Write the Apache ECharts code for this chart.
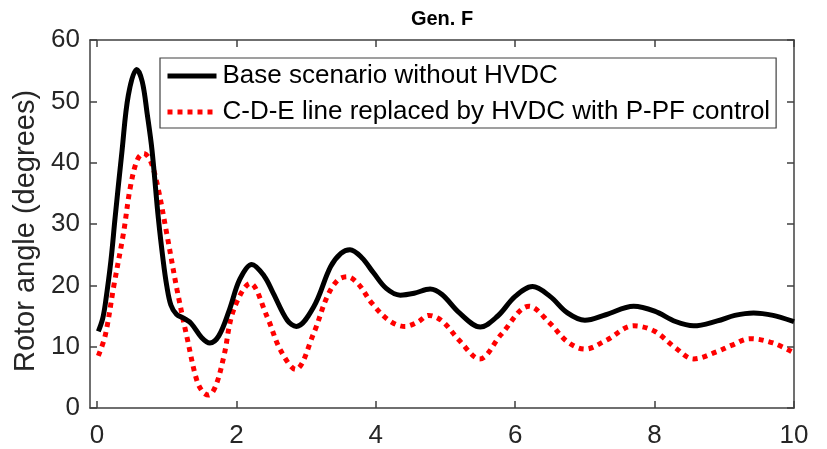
<!DOCTYPE html>
<html>
<head>
<meta charset="utf-8">
<script src="https://cdn.jsdelivr.net/npm/echarts@6/dist/echarts.min.js"></script>
<style>html,body{margin:0;padding:0;background:#fff}#c{width:827px;height:449px}</style>
</head>
<body>
<div id="c"></div>
<script>
var chartTitle = 'Gen. F';
var yAxisName = 'Rotor angle (degrees)';
var seriesNames = ['Base scenario without HVDC', 'C-D-E line replaced by HVDC with P-PF control'];
var xTicks = [0, 2, 4, 6, 8, 10];
var yTicks = [0, 10, 20, 30, 40, 50, 60];

var baseX = [0.02,0.08,0.12,0.2,0.26,0.36,0.45,0.57,0.65,0.72,0.79,0.88,0.95,1.0,1.06,1.14,1.25,1.35,1.5,1.62,1.75,1.9,2.05,2.22,2.4,2.53,2.73,2.86,3.11,3.35,3.5,3.63,3.8,3.97,4.15,4.35,4.55,4.78,4.95,5.2,5.5,5.75,6.0,6.25,6.5,6.75,7.0,7.3,7.7,8.0,8.3,8.56,8.9,9.15,9.42,9.7,10.0];
var baseY = [12.5,14.5,17,24,31,42,51,55.2,53.2,48,42,31,24,20,16.8,15.3,14.6,13.8,11.5,10.6,11.8,16,21,23.4,21.5,18.7,14.3,13.3,16.5,23,25.2,25.8,24.5,22,19.5,18.4,18.7,19.4,18.5,15.5,13.2,15,18.2,19.8,18.2,15.5,14.3,15.2,16.6,15.8,14.1,13.4,14.2,15.1,15.5,15.1,14.1];

var hvdcX = [0.02,0.12,0.24,0.38,0.48,0.58,0.67,0.76,0.86,1.0,1.15,1.29,1.43,1.52,1.6,1.7,1.82,1.96,2.2,2.44,2.63,2.85,3.11,3.3,3.45,3.59,3.75,3.95,4.2,4.42,4.6,4.76,4.95,5.2,5.49,5.8,6.2,6.5,6.75,7.0,7.3,7.7,8.0,8.3,8.56,8.9,9.1,9.37,9.7,10.0];
var hvdcY = [8.5,11.9,19.8,28.5,36.1,40.5,41.5,40.5,36.7,28.5,19.2,11.6,4.6,2.6,2.1,3.5,8.4,16,20.3,14.9,9.5,6.3,12.2,18.1,20.8,21.4,20.2,17,14.2,13.3,14,15.1,14.2,11,8.0,12,16.6,13.8,10.8,9.6,11,13.4,12.5,9.8,8.0,9.2,10.2,11.3,10.6,9.0];

function pairs(xs, ys) { return xs.map(function (x, i) { return [x, ys[i]]; }); }

var FONT = '"Liberation Sans", Arial, Helvetica, sans-serif';
var AX = '#404040';
var TXT = '#262626';
var tickStyle = {color: AX, width: 1.5};
var blackLine = {color: '#000', width: 5, type: 'solid'};
var redLine = {color: '#ff0000', width: 5, type: [5, 5], cap: 'butt'};

var chart = echarts.init(document.getElementById('c'), null, {renderer: 'canvas'});
chart.setOption({
  animation: false,
  backgroundColor: '#fff',
  title: {
    text: chartTitle, left: 437, top: 4, textAlign: 'center',
    textStyle: {fontFamily: FONT, fontSize: 20, fontWeight: 'bold', color: '#000'}
  },
  legend: {
    orient: 'vertical', left: 160, top: 58,
    itemWidth: 49, itemHeight: 14, itemGap: 10,
    padding: [5, 6, 3, 5],
    backgroundColor: '#fff', borderColor: AX, borderWidth: 1.2,
    itemStyle: {opacity: 0},
    textStyle: {fontFamily: FONT, fontSize: 26, color: '#000', padding: [0, 0, 0, 1]},
    data: [
      {name: seriesNames[0], lineStyle: blackLine, itemStyle: {opacity: 0}},
      {name: seriesNames[1], lineStyle: redLine, itemStyle: {opacity: 0}}
    ]
  },
  grid: {left: 90, right: 33, top: 40, bottom: 41, containLabel: false},
  xAxis: [{
    type: 'value', min: -0.1, max: 10,
    axisLine: {onZero: false, lineStyle: tickStyle},
    axisTick: {inside: true, length: 7, customValues: xTicks, lineStyle: tickStyle},
    axisLabel: {customValues: xTicks, fontFamily: FONT, fontSize: 26, color: TXT, margin: 15},
    splitLine: {show: false}
  }, {
    type: 'value', min: -0.1, max: 10, position: 'top',
    axisLine: {show: true, onZero: false, lineStyle: tickStyle},
    axisTick: {inside: true, length: 7, customValues: xTicks, lineStyle: tickStyle},
    axisLabel: {show: false},
    splitLine: {show: false}
  }],
  yAxis: [{
    type: 'value', min: 0, max: 60, interval: 10,
    name: yAxisName, nameLocation: 'middle', nameGap: 49,
    nameTextStyle: {fontFamily: FONT, fontSize: 29, color: TXT, padding: [0, 14, 0, 0]},
    axisLine: {show: true, onZero: false, lineStyle: tickStyle},
    axisTick: {show: true, inside: true, length: 7, lineStyle: tickStyle},
    axisLabel: {fontFamily: FONT, fontSize: 26, color: TXT, margin: 10},
    splitLine: {show: false}
  }, {
    type: 'value', min: 0, max: 60, interval: 10, position: 'right',
    axisLine: {show: true, onZero: false, lineStyle: tickStyle},
    axisTick: {show: true, inside: true, length: 7, lineStyle: tickStyle},
    axisLabel: {show: false},
    splitLine: {show: false}
  }],
  series: [{
    name: seriesNames[0], type: 'line', xAxisIndex: 0, yAxisIndex: 0,
    data: pairs(baseX, baseY), smooth: 0.35, symbol: 'none',
    lineStyle: blackLine, itemStyle: {color: '#000'}, z: 3
  }, {
    name: seriesNames[1], type: 'line', xAxisIndex: 0, yAxisIndex: 0,
    data: pairs(hvdcX, hvdcY), smooth: 0.35, symbol: 'none',
    lineStyle: redLine, itemStyle: {color: '#ff0000'}, z: 2
  }]
});
</script>
</body>
</html>
